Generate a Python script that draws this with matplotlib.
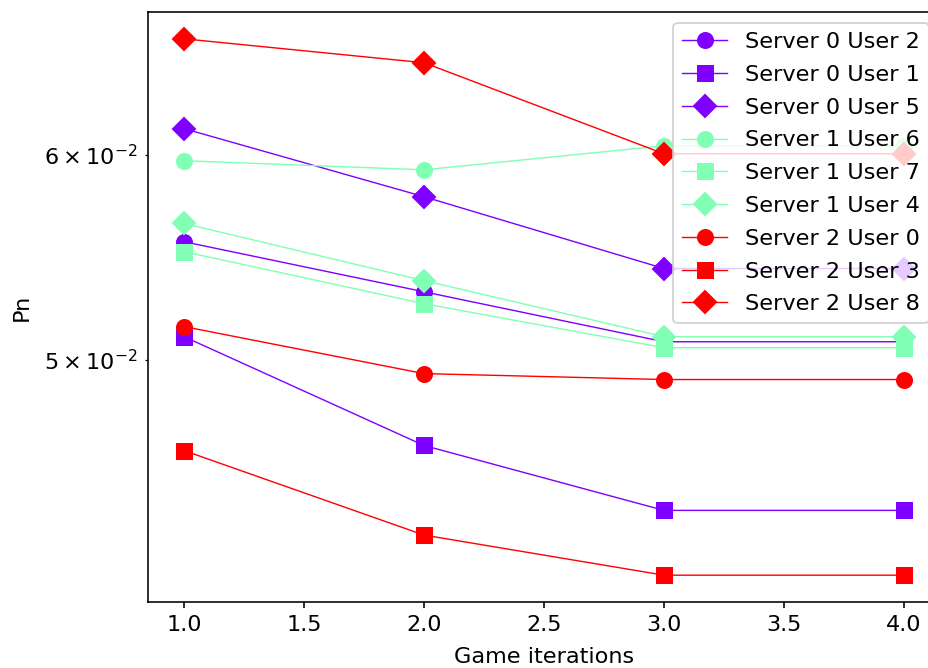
import numpy as np
import matplotlib
matplotlib.use('Agg')
import matplotlib.pyplot as plt

# Game iterations
iterations = [1, 2, 3, 4]

# Pn per user
labels = ['Server 0 User 2', 'Server 0 User 1', 'Server 0 User 5',
          'Server 1 User 6', 'Server 1 User 7', 'Server 1 User 4',
          'Server 2 User 0', 'Server 2 User 3', 'Server 2 User 8']
s0_u2 = [0.05553, 0.05311, 0.05080, 0.05080]
s0_u1 = [0.05103, 0.04632, 0.04372, 0.04372]
s0_u5 = [0.06141, 0.05780, 0.05422, 0.05422]
s1_u6 = [0.05968, 0.05920, 0.06048, 0.06048]
s1_u7 = [0.05504, 0.05255, 0.05053, 0.05053]
s1_u4 = [0.05644, 0.05364, 0.05103, 0.05103]
s2_u0 = [0.05149, 0.04938, 0.04912, 0.04912]
s2_u3 = [0.04611, 0.04277, 0.04127, 0.04127]
s2_u8 = [0.06652, 0.06512, 0.06005, 0.06005]
series = [s0_u2, s0_u1, s0_u5, s1_u6, s1_u7, s1_u4, s2_u0, s2_u3, s2_u8]

colors = plt.cm.rainbow(np.linspace(0, 1, 3))
markers = ['o', 's', 'D']

plt.rcParams['font.size'] = 11.2
plt.rcParams['xtick.major.size'] = 2.8
plt.rcParams['ytick.major.size'] = 2.8
plt.rcParams['ytick.minor.size'] = 1.6

fig = plt.figure(figsize=(928 / 144, 668 / 144), dpi=144)
ax = fig.add_axes([148 / 928, 66 / 668, 792 / 928, 590 / 668])

for i, (lab, ys) in enumerate(zip(labels, series)):
    ax.plot(iterations, ys, marker=markers[i % 3], color=colors[i // 3],
            lw=0.7, markersize=7.5, label=lab)

ax.set_yscale('log')
ax.set_xlabel('Game iterations', labelpad=6)
ax.set_ylabel('Pn', labelpad=6)
ax.legend(loc='upper right', labelspacing=0.57)

fig.savefig('out.png', dpi=144)
